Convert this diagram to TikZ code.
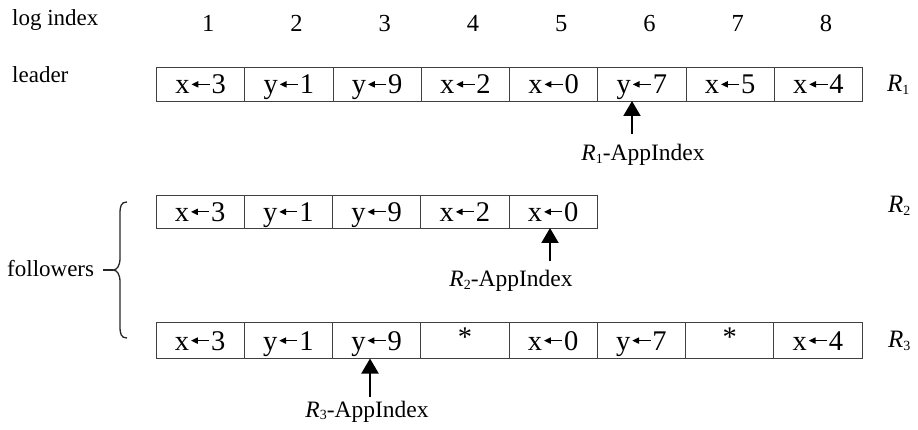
\documentclass[tikz,border=0pt]{standalone}
\usepackage{fontspec}
\setmainfont{Liberation Serif}
\usetikzlibrary{arrows.meta,calc}
\newcommand\myarr{\kern0.04em\tikz[baseline=0pt]\draw[line width=0.045em,-{Triangle[length=0.24em,width=0.22em]}] (0.64em,0.33em) -- (0,0.33em);\kern0.04em}
\newcommand\asg[2]{#1\myarr#2}
\newcommand\Rsub[1]{\textit{R}\raisebox{-0.12em}{\fontsize{14}{14}\selectfont #1}}
\begin{document}
\begin{tikzpicture}[x=1pt,y=-1pt,
  cell/.style={draw=black!75,line width=0.9pt,minimum width=88.25pt,inner sep=0pt,outer sep=0pt,
    font=\fontsize{28.5}{30}\selectfont,text height=19.5pt,text depth=0pt},
  lbl/.style={inner sep=0pt,font=\fontsize{23}{27}\selectfont},
  num/.style={inner sep=0pt,font=\fontsize{24.5}{28}\selectfont},
  rlab/.style={inner sep=0pt,font=\fontsize{25}{28}\selectfont},
  applab/.style={inner sep=0pt,font=\fontsize{23.5}{28}\selectfont},
  ptr/.style={line width=2pt,-{Triangle[length=15pt,width=17pt]}},
  brace/.style={line width=1.3pt,draw=black!85}]
\useasboundingbox (0,0) rectangle (918,430);

% column headers
\node[lbl,anchor=base west] (logidx) at (12,26) {log index};
\foreach \i in {1,...,8}{
  \node[num,anchor=base] (n\i) at ({156.5+88.25*\i-44.125+7.5},32) {\i};
}

% leader row
\node[lbl,anchor=base west] (leader) at (12,83) {leader};
\foreach \i/\t in {1/{\asg{x}{3}},2/{\asg{y}{1}},3/{\asg{y}{9}},4/{\asg{x}{2}},5/{\asg{x}{0}},6/{\asg{y}{7}},7/{\asg{x}{5}},8/{\asg{x}{4}}}{
  \node[cell,minimum height=34pt] (L\i) at ({156.5+88.25*\i-44.125},84) {\t};
}
\node[rlab,anchor=base west] (r1) at (887,92) {\Rsub{1}};

% follower R2
\foreach \i/\t in {1/{\asg{x}{3}},2/{\asg{y}{1}},3/{\asg{y}{9}},4/{\asg{x}{2}},5/{\asg{x}{0}}}{
  \node[cell,minimum height=33pt] (A\i) at ({156+88.25*\i-44.125},211.5) {\t};
}
\node[rlab,anchor=base west] (r2) at (888,213) {\Rsub{2}};

% follower R3
\foreach \i/\t in {1/{\asg{x}{3}},2/{\asg{y}{1}},3/{\asg{y}{9}},4/{\raisebox{0.14em}{*}},5/{\asg{x}{0}},6/{\asg{y}{7}},7/{\raisebox{0.14em}{*}},8/{\asg{x}{4}}}{
  \node[cell,minimum height=36.5pt] (B\i) at ({156+88.25*\i-44.125},340.25) {\t};
}
\node[rlab,anchor=base west] (r3) at (888,347) {\Rsub{3}};

% AppIndex labels and pointers
\node[applab,anchor=base] (app1) at (643,161) {\Rsub{1}-AppIndex};
\node[applab,anchor=base] (app2) at (511,287) {\Rsub{2}-AppIndex};
\node[applab,anchor=base] (app3) at (367,417) {\Rsub{3}-AppIndex};
\coordinate (t1) at (632,134);
\coordinate (t2) at (550,261);
\coordinate (t3) at (370,397);
\draw[ptr] (t1) -- (t1 |- L6.south);
\draw[ptr] (t2) -- (t2 |- A5.south);
\draw[ptr] (t3) -- (t3 |- B3.south);

% followers brace
\node[lbl,anchor=base west] (foll) at (7,277) {followers};
\coordinate (tip) at (113,270);
\draw[brace] (127,202) .. controls (121,202) and (120,206) .. (120,214) -- (120,258)
  .. controls (120,266) and (117,270) .. (tip)
  .. controls (117,270) and (120,274) .. (120,282) -- (120,326)
  .. controls (120,334) and (121,338) .. (127,338);
\draw[brace] (103,270) -- (tip);
\end{tikzpicture}
\end{document}
